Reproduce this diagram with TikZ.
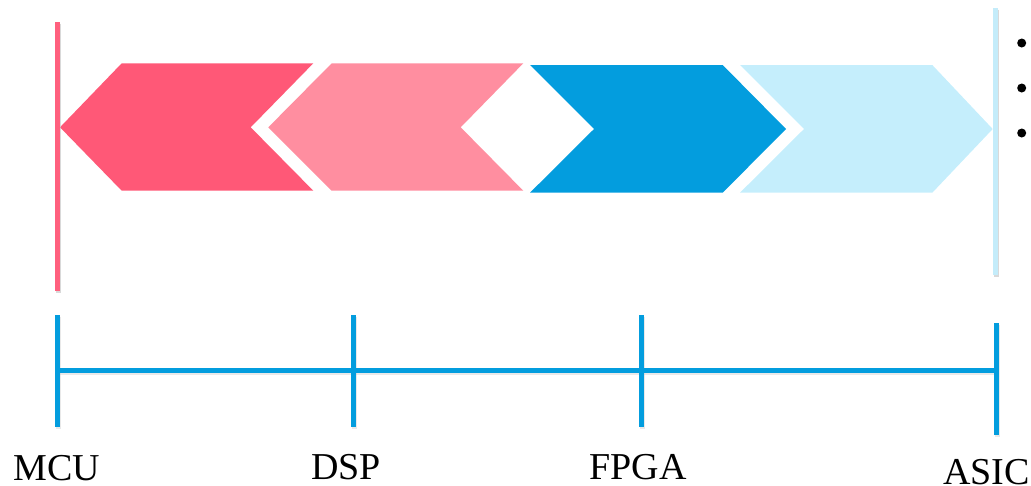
\documentclass[tikz,border=0pt]{standalone}
\usepackage{fontspec}
\setmainfont{Liberation Serif}
\definecolor{cRed}{RGB}{255,88,119}
\definecolor{cPink}{RGB}{255,142,160}
\definecolor{cBlue}{RGB}{3,157,222}
\definecolor{cLight}{RGB}{197,238,252}
\definecolor{cRedLine}{RGB}{255,96,126}
\definecolor{cLightLine}{RGB}{196,236,250}
\begin{document}
\begin{tikzpicture}[x=1pt,y=-1pt,
  shadowline/.style={line width=5pt,draw=black!25,opacity=0.6},
  axisline/.style={line width=5pt,draw=cBlue},
  lbl/.style={font=\fontsize{38}{40}\selectfont,anchor=base,inner sep=0pt},
  dot/.style={circle,fill=black,inner sep=0pt,minimum size=9pt}]
\useasboundingbox (0,0) rectangle (1031,485);
% chevrons
\fill[cRed] (60,127.3) -- (121.7,63.3) -- (313.3,63.3) -- (250.7,127.3) -- (313.3,190.7) -- (121.7,190.7) -- cycle;
\fill[cPink] (268.3,127.3) -- (331.7,63.3) -- (523.3,63.3) -- (460.7,127.3) -- (523.3,190.7) -- (331.7,190.7) -- cycle;
\fill[cBlue] (530,65) -- (722.7,65) -- (786,129) -- (722.7,192.7) -- (530,192.7) -- (594,129) -- cycle;
\fill[cLight] (740,65) -- (932.3,65) -- (992.7,129) -- (932.3,192.7) -- (740,192.7) -- (804,129) -- cycle;
% vertical bars
\coordinate (rt) at (57.7,22);
\coordinate (rb) at (57.7,291);
\coordinate (lt) at (995.5,8);
\coordinate (lb) at (995.5,275);
\draw[shadowline] ([xshift=1.2pt,yshift=-1.5pt]rt) -- ([xshift=1.2pt,yshift=-1.5pt]rb);
\draw[line width=5pt,cRedLine] (rt) -- (rb);
\draw[shadowline] ([xshift=1.2pt,yshift=-1.5pt]lt) -- ([xshift=1.2pt,yshift=-1.5pt]lb);
\draw[line width=5.5pt,cLightLine] (lt) -- (lb);
% bullets
\node[dot] (b1) at (1021.7,43) {};
\node[dot] (b2) at (1021.7,88) {};
\node[dot] (b3) at (1021.7,133) {};
% timeline
\coordinate (t1a) at (57.7,315);   \coordinate (t1b) at (57.7,427);
\coordinate (t2a) at (353.3,315);  \coordinate (t2b) at (353.3,427);
\coordinate (t3a) at (641.7,315);  \coordinate (t3b) at (641.7,427);
\coordinate (t4a) at (996,323);    \coordinate (t4b) at (996,435);
\coordinate (h1) at (57.7,370.7);
\coordinate (h2) at (996,370.7);
\foreach \a/\b in {t1a/t1b,t2a/t2b,t3a/t3b,t4a/t4b}{
  \draw[shadowline,opacity=0.35] ([xshift=1pt,yshift=-1.5pt]\a) -- ([xshift=1pt,yshift=-1.5pt]\b);
}
\draw[shadowline,opacity=0.35] ([yshift=-1.5pt]h1) -- ([yshift=-1.5pt]h2);
\draw[axisline] (h1) -- (h2);
\foreach \a/\b in {t1a/t1b,t2a/t2b,t3a/t3b,t4a/t4b}{
  \draw[axisline] (\a) -- (\b);
}
% labels
\node[lbl] (mcu) at (57,480) {MCU};
\node[lbl] (dsp) at (346,479) {DSP};
\node[lbl] (fpga) at (638,479) {FPGA};
\node[lbl] (asic) at (986.5,484) {ASIC};
\end{tikzpicture}
\end{document}
